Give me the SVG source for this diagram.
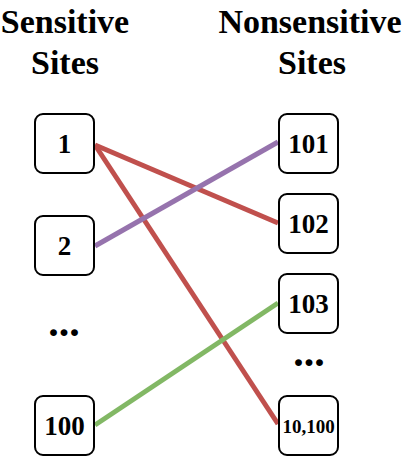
<svg xmlns="http://www.w3.org/2000/svg" width="408" height="457" viewBox="0 0 408 457">
<style>
.h{font-family:"Liberation Serif","Times New Roman",serif;font-weight:bold;font-size:34px;text-anchor:middle;fill:#000}
.box{fill:#fff;stroke:#000;stroke-width:2}
.lbl{font-family:"Liberation Serif","Times New Roman",serif;font-weight:bold;font-size:27px;text-anchor:middle;fill:#000}
.c{fill:none;stroke-width:5}
</style>
<rect width="408" height="457" fill="#fff"/>
<g id="headers">
<text class="h" x="65" y="33">Sensitive</text>
<text class="h" x="65" y="74">Sites</text>
<text class="h" x="310" y="33">Nonsensitive</text>
<text class="h" x="312" y="74">Sites</text>
</g>
<g id="connectors">
<line class="c" stroke="#C0504D" x1="95" y1="145" x2="278" y2="223"/>
<line class="c" stroke="#C0504D" x1="95" y1="145" x2="278" y2="424"/>
<line class="c" stroke="#9673AD" x1="95" y1="246" x2="278" y2="142"/>
<line class="c" stroke="#82B865" x1="95" y1="425" x2="278" y2="303"/>
</g>
<g id="n1"><rect class="box" x="35" y="114" width="59" height="59" rx="8"/><text class="lbl" x="64.5" y="153">1</text></g>
<g id="n2"><rect class="box" x="35" y="216" width="59" height="59" rx="8"/><text class="lbl" x="64.5" y="255">2</text></g>
<g id="n100"><rect class="box" x="35" y="396" width="59" height="59" rx="8"/><text class="lbl" x="64.5" y="435">100</text></g>
<g id="n101"><rect class="box" x="279" y="114" width="59" height="59" rx="8"/><text class="lbl" x="308.5" y="153">101</text></g>
<g id="n102"><rect class="box" x="279" y="194" width="59" height="59" rx="8"/><text class="lbl" x="308.5" y="233">102</text></g>
<g id="n103"><rect class="box" x="279" y="274" width="59" height="59" rx="8"/><text class="lbl" x="308.5" y="313">103</text></g>
<g id="n10100"><rect class="box" x="279" y="396" width="59" height="59" rx="8"/><text class="lbl" x="308.5" y="433" style="font-size:19px">10,100</text></g>
<g id="ellipses">
<text class="lbl" x="64" y="336" style="font-size:42px">...</text>
<text class="lbl" x="309" y="366" style="font-size:42px">...</text>
</g>
</svg>
